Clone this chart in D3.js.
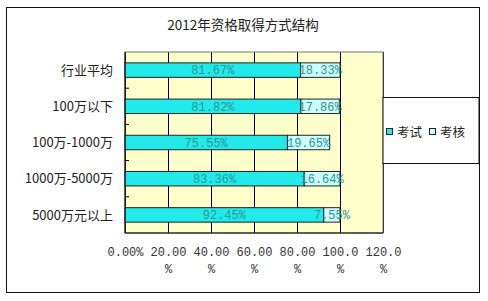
<!DOCTYPE html>
<html lang="zh">
<head>
  <meta charset="UTF-8">
  <title>2012年资格取得方式结构</title>
  <script src="https://d3js.org/d3.v7.min.js"></script>
  <style>
    body { margin: 0; background: #fff; }
    svg { display: block; }
    .cjk { font-family: "Noto Sans CJK SC", sans-serif; fill: #222; }
    .mono { font-family: "Liberation Mono", "DejaVu Sans Mono", monospace; font-size: 12px; }
    .bar-label { fill: #2f9494; text-anchor: middle; }
    .axis text { fill: #333; }
  </style>
</head>
<body>
<script>
  // data
  const categories = ["行业平均", "100万以下", "100万-1000万", "1000万-5000万", "5000万元以上"];
  const examShare = [81.67, 81.82, 75.55, 83.36, 92.45];
  const assessShare = [18.33, 17.86, 19.65, 16.64, 7.55];
  const seriesNames = ["考试", "考核"];
  const tickValues = [0, 20, 40, 60, 80, 100, 120];
  const tickLabels = ["0.00%", "20.00%", "40.00%", "60.00%", "80.00%", "100.0%", "120.0%"];

  const width = 488, height = 301;
  const plot = { left: 125, right: 383, top: 52, bottom: 233 };
  const colors = ["#22eaea", "#ccffff"];

  const svg = d3.select("body").append("svg")
    .attr("width", width)
    .attr("height", height);

  // outer frame
  svg.append("rect")
    .attr("x", 6.5).attr("y", 7.5)
    .attr("width", 473).attr("height", 285)
    .attr("fill", "#fff")
    .attr("stroke", "#111");

  svg.append("text")
    .attr("class", "cjk")
    .attr("x", 243).attr("y", 30)
    .attr("text-anchor", "middle")
    .style("font-size", "13.5px")
    .text("2012年资格取得方式结构");

  const x = d3.scaleLinear().domain([0, 120]).range([plot.left, plot.right]);
  const y = d3.scaleBand().domain(categories)
    .range([plot.top, plot.bottom])
    .paddingInner(0.6).paddingOuter(0.3);

  // plot background
  svg.append("rect")
    .attr("x", plot.left).attr("y", plot.top)
    .attr("width", plot.right - plot.left).attr("height", plot.bottom - plot.top)
    .attr("fill", "#ffffcc");

  // x axis with gridlines
  const xAxis = svg.append("g")
    .attr("class", "axis")
    .attr("transform", `translate(0,${plot.bottom})`)
    .call(d3.axisBottom(x).tickValues(tickValues)
      .tickSize(-(plot.bottom - plot.top))
      .tickFormat((d, i) => tickLabels[i]));
  xAxis.select(".domain").remove();
  xAxis.selectAll(".tick line").attr("stroke", "#000").attr("shape-rendering", "crispEdges");
  xAxis.selectAll(".tick text").each(function(d, i) {
    const t = d3.select(this);
    const label = tickLabels[i];
    t.text(null)
      .attr("class", "mono")
      .attr("y", 23).attr("dy", null);
    t.append("tspan").attr("x", 0).text(label.slice(0, 5));
    if (label.length > 5) {
      t.append("tspan").attr("x", 0).attr("dy", 17).text(label.slice(5));
    }
  });

  // stacked bars
  const rows = categories.map((c, i) => ({ cat: c, values: [examShare[i], assessShare[i]] }));
  const bw = y.bandwidth();

  rows.forEach(r => {
    let start = 0;
    r.values.forEach((v, k) => {
      const x0 = x(start), x1 = x(start + v);
      svg.append("rect")
        .attr("x", x0).attr("y", y(r.cat))
        .attr("width", x1 - x0).attr("height", bw)
        .attr("fill", colors[k])
        .attr("stroke", "#222")
        .attr("stroke-width", 1);
      svg.append("text")
        .attr("class", "mono bar-label")
        .attr("x", (x0 + x1) / 2)
        .attr("y", y(r.cat) + bw / 2)
        .attr("dy", "0.36em")
        .text(v.toFixed(2) + "%");
      start += v;
    });
  });

  // plot border and axis lines
  svg.append("rect")
    .attr("x", plot.left).attr("y", plot.top)
    .attr("width", plot.right - plot.left).attr("height", plot.bottom - plot.top)
    .attr("fill", "none")
    .attr("stroke", "#777");
  svg.append("line")
    .attr("x1", plot.left).attr("x2", plot.left)
    .attr("y1", plot.top).attr("y2", plot.bottom)
    .attr("stroke", "#000");
  svg.append("line")
    .attr("x1", plot.left).attr("x2", plot.right)
    .attr("y1", plot.bottom).attr("y2", plot.bottom)
    .attr("stroke", "#000");

  // category ticks at band boundaries (inside)
  const step = y.step();
  categories.slice(1).forEach(c => {
    const yb = y(c) + bw / 2 - step / 2;
    svg.append("line")
      .attr("x1", plot.left).attr("x2", plot.left + 4)
      .attr("y1", yb).attr("y2", yb)
      .attr("stroke", "#000");
  });

  // category labels
  svg.selectAll(".cat-label")
    .data(categories)
    .join("text")
    .attr("class", "cjk cat-label")
    .attr("x", 113)
    .attr("y", d => y(d) + bw / 2)
    .attr("dy", "0.36em")
    .attr("text-anchor", "end")
    .style("font-size", "13px")
    .text(d => d);

  // legend
  const legend = svg.append("g");
  legend.append("rect")
    .attr("x", 383).attr("y", 97.5)
    .attr("width", 96).attr("height", 66)
    .attr("fill", "#fff")
    .attr("stroke", "#111");
  const legendX = [386, 429];
  seriesNames.forEach((name, k) => {
    legend.append("rect")
      .attr("x", legendX[k] + 0.5).attr("y", 128.5)
      .attr("width", 6).attr("height", 6)
      .attr("fill", colors[k])
      .attr("stroke", "#222");
    legend.append("text")
      .attr("class", "cjk")
      .attr("x", legendX[k] + 11)
      .attr("y", 132)
      .attr("dy", "0.36em")
      .style("font-size", "12.5px")
      .text(name);
  });
</script>
</body>
</html>
